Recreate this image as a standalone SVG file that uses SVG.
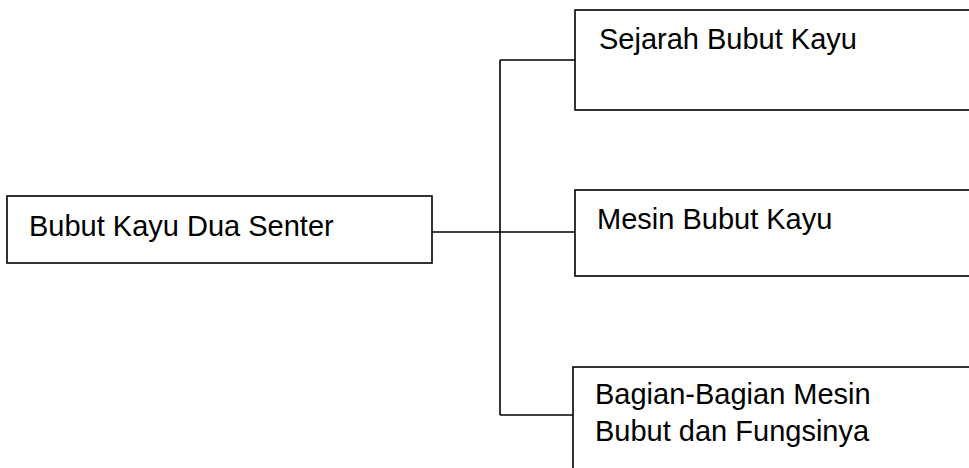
<svg xmlns="http://www.w3.org/2000/svg" width="969" height="468" viewBox="0 0 969 468">
<style>
.box{fill:#fff;stroke:#000;stroke-width:1.6}
.t{font-family:"Liberation Sans",Arial,sans-serif;font-size:29px;fill:#000}
.c{fill:none;stroke:#000;stroke-width:1.6}
</style>
<rect width="969" height="468" fill="#fff"/>
<g id="connectors">
<line class="c" x1="500" y1="60" x2="500" y2="415"/>
<line class="c" x1="500" y1="60" x2="575" y2="60"/>
<line class="c" x1="432" y1="232" x2="575" y2="232"/>
<line class="c" x1="500" y1="415" x2="573" y2="415"/>
</g>
<g id="root">
<rect class="box" x="7" y="196" width="425" height="67"/>
<text class="t" x="29" y="236">Bubut Kayu Dua Senter</text>
</g>
<g id="sejarah">
<rect class="box" x="575" y="10" width="420" height="100"/>
<text class="t" x="599" y="49">Sejarah Bubut Kayu</text>
</g>
<g id="mesin">
<rect class="box" x="575" y="190" width="420" height="86"/>
<text class="t" x="597" y="229">Mesin Bubut Kayu</text>
</g>
<g id="bagian">
<rect class="box" x="573" y="367" width="420" height="120"/>
<text class="t" x="595" y="404">Bagian-Bagian Mesin</text>
<text class="t" x="595" y="441">Bubut dan Fungsinya</text>
</g>
</svg>
